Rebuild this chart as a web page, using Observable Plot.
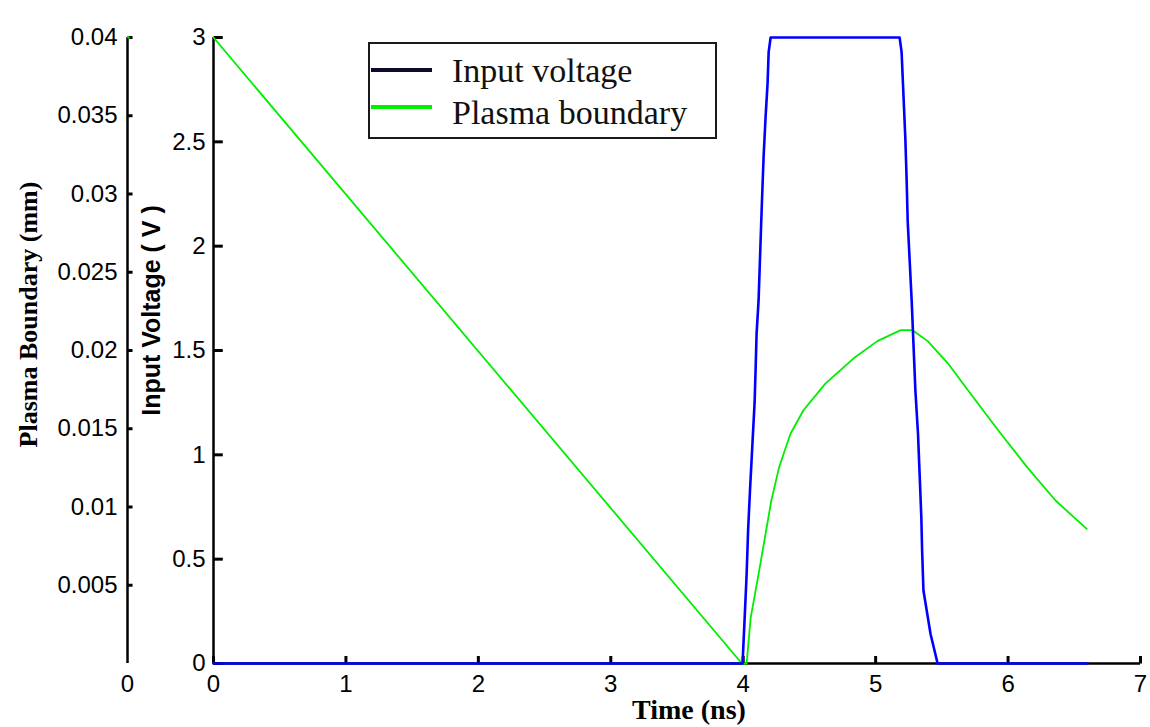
<!DOCTYPE html>
<html>
<head>
<meta charset="utf-8">
<script src="https://cdn.jsdelivr.net/npm/d3@7"></script>
<script src="https://cdn.jsdelivr.net/npm/@observablehq/plot@0.6"></script>
<style>
  html, body { margin: 0; padding: 0; background: #fff; }
  #wrap { position: relative; width: 1150px; height: 727px; overflow: hidden; }
  #legend { position: absolute; left: 368px; top: 42px; width: 349px; height: 97px;
            box-sizing: border-box; border: 2px solid #1a1a1a; background: #fff; }
  .lg-line { position: absolute; height: 4px; width: 61px; }
  .lg-text { position: absolute; font-family: "Liberation Serif", "Times New Roman", serif;
             font-size: 34px; line-height: 34px; color: #111; white-space: nowrap; }
</style>
</head>
<body>
<div id="wrap"></div>
<script>
// ---- data ----
const xTicks = [0, 1, 2, 3, 4, 5, 6, 7];
const voltTicks = [0, 0.5, 1, 1.5, 2, 2.5, 3];
const mmTicks = [0.005, 0.01, 0.015, 0.02, 0.025, 0.03, 0.035, 0.04];

// Input voltage (V) vs time (ns)
const voltTime = [0, 3.995, 4.011, 4.026, 4.037, 4.052, 4.071, 4.086, 4.094, 4.101, 4.116,
  4.139, 4.154, 4.169, 4.184, 4.192, 4.207, 5.181, 5.196, 5.211, 5.224, 5.234, 5.242,
  5.272, 5.287, 5.300, 5.320, 5.332, 5.345, 5.351, 5.361, 5.415, 5.468, 6.6];
const voltValue = [0, 0, 0.22, 0.43, 0.64, 0.84, 1.07, 1.25, 1.42, 1.58, 1.74,
  2.17, 2.43, 2.62, 2.78, 2.93, 3, 3, 2.93, 2.71, 2.52, 2.32, 2.12,
  1.74, 1.51, 1.31, 1.10, 0.91, 0.70, 0.54, 0.35, 0.14, 0, 0];

// Plasma boundary (mm) vs time (ns)
const plasmaTime = [0, 3.99, 4.026, 4.056, 4.124, 4.169, 4.212, 4.270, 4.313, 4.358, 4.456,
  4.622, 4.834, 5.013, 5.189, 5.234, 5.279, 5.393, 5.544, 5.755, 5.944, 6.148, 6.360, 6.594];
const plasmaMm = [0.04, 0, 0, 0.0029, 0.0061, 0.0083, 0.0104, 0.0125, 0.0136, 0.0147, 0.0162,
  0.0179, 0.0195, 0.0206, 0.0213, 0.0213, 0.0213, 0.0206, 0.0192, 0.0168, 0.0147, 0.0125, 0.0104, 0.0086];

// ---- build tables ----
const voltData = voltTime.map((t, i) => ({t, v: voltValue[i]}));
const plasmaData = plasmaTime.map((t, i) => ({t, mm: plasmaMm[i]}));
const mmToV = 3 / 0.04; // secondary axis: 0..0.04 mm spans 0..3 V

const outerDx = -86;
const serif = "Liberation Serif, Times New Roman, serif";
const sans = "Liberation Sans, Arial, sans-serif";

const chart = Plot.plot({
  width: 1150,
  height: 727,
  marginLeft: 213,
  marginRight: 10,
  marginTop: 37,
  marginBottom: 64,
  x: {domain: [0, 7], axis: null},
  y: {domain: [0, 3], axis: null},
  style: {fontFamily: sans, fontSize: "24px", color: "black", background: "white", overflow: "visible"},
  marks: [
    // axis lines
    Plot.ruleX([0], {stroke: "black", strokeWidth: 2.5}),
    Plot.ruleX([0], {stroke: "black", strokeWidth: 2.5, dx: outerDx}),
    Plot.ruleY([0], {stroke: "black", strokeWidth: 2.5}),
    // inward ticks
    Plot.link(voltTicks, {x1: () => 0, x2: () => 0.07, y1: d => d, y2: d => d, stroke: "black", strokeWidth: 3}),
    Plot.link(mmTicks, {x1: () => 0, x2: () => 0.038, y1: d => d * mmToV, y2: d => d * mmToV, dx: outerDx, stroke: "black", strokeWidth: 3}),
    Plot.link(xTicks, {x1: d => d, x2: d => d, y1: () => 0, y2: () => 0.036, stroke: "black", strokeWidth: 3}),
    // tick labels
    Plot.text(voltTicks, {y: d => d, text: d => String(d), frameAnchor: "left", textAnchor: "end", dx: -8, fill: "black"}),
    Plot.text(mmTicks, {y: d => d * mmToV, text: d => String(d), frameAnchor: "left", textAnchor: "end", dx: outerDx - 10, fill: "black"}),
    Plot.text(xTicks, {x: d => d, text: d => String(d), frameAnchor: "bottom", lineAnchor: "top", dy: 11, fill: "black"}),
    Plot.text(["0"], {frameAnchor: "bottom-left", textAnchor: "middle", lineAnchor: "top", dx: outerDx, dy: 11, fill: "black"}),
    // axis titles
    Plot.text(["Plasma Boundary (mm)"], {frameAnchor: "left", textAnchor: "middle", rotate: -90, dx: -185, dy: -36,
      fontFamily: serif, fontWeight: "bold", fontSize: 26, fill: "black"}),
    Plot.text(["Input Voltage ( V )"], {frameAnchor: "left", textAnchor: "middle", rotate: -90, dx: -62, dy: -40,
      fontFamily: sans, fontWeight: "bold", fontSize: 25, fill: "black"}),
    Plot.text(["Time (ns)"], {frameAnchor: "bottom", textAnchor: "middle", lineAnchor: "middle", dx: 12, dy: 47,
      fontFamily: serif, fontWeight: "bold", fontSize: 28, fill: "black"}),
    // series
    Plot.line(plasmaData, {x: "t", y: d => d.mm * mmToV, stroke: "#00ee00", strokeWidth: 1.8}),
    Plot.dot(plasmaData.slice(0, 1), {x: "t", y: d => d.mm * mmToV, dx: outerDx + 1, r: 1.3, fill: "#00ee00", stroke: "none"}),
    Plot.line(voltData, {x: "t", y: "v", stroke: "#0000ff", strokeWidth: 2.6})
  ]
});

const wrap = document.getElementById("wrap");
wrap.appendChild(chart);

// legend (HTML overlay)
const legend = document.createElement("div");
legend.id = "legend";
const items = [
  {label: "Input voltage", color: "#0b0b2e", lineTop: 24, textTop: 10},
  {label: "Plasma boundary", color: "#00ee00", lineTop: 61, textTop: 52}
];
for (const it of items) {
  const ln = document.createElement("div");
  ln.className = "lg-line";
  ln.style.left = "1px";
  ln.style.top = it.lineTop + "px";
  ln.style.background = it.color;
  legend.appendChild(ln);
  const tx = document.createElement("div");
  tx.className = "lg-text";
  tx.style.left = "82px";
  tx.style.top = it.textTop + "px";
  tx.textContent = it.label;
  legend.appendChild(tx);
}
wrap.appendChild(legend);
</script>
</body>
</html>
